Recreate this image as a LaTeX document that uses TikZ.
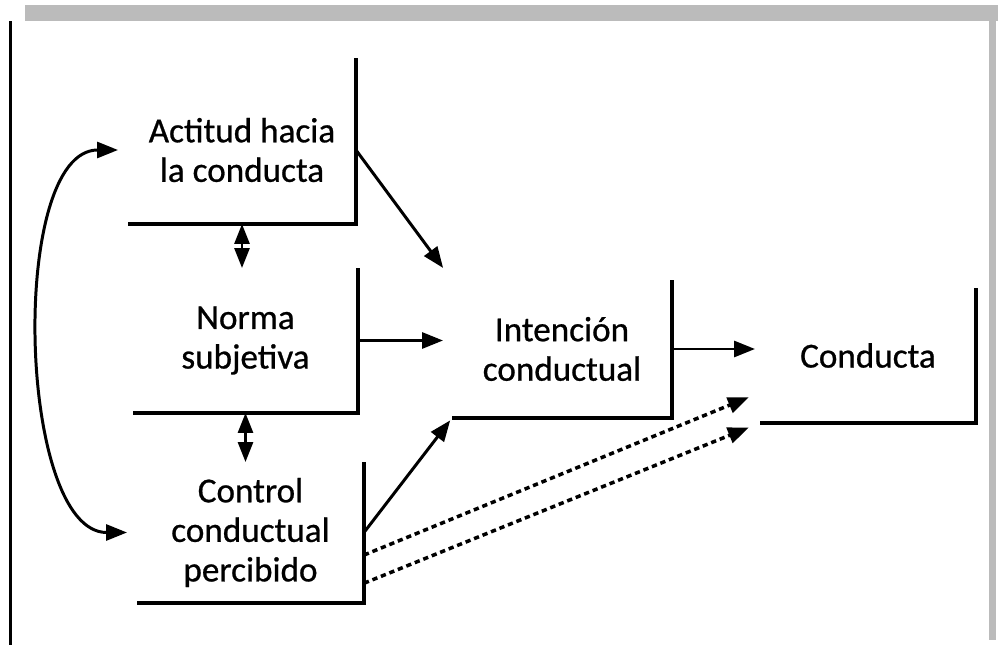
\documentclass[tikz,border=0pt]{standalone}
\usepackage{fontspec}
\setmainfont{Carlito}
\usetikzlibrary{arrows.meta,calc}
\definecolor{bandagris}{RGB}{187,187,187}

\begin{document}
\begin{tikzpicture}[x=0.02cm, y=-0.02cm,
    caja/.style={inner sep=0pt, outer sep=0pt, align=center, font=\fontsize{20}{22.5}\selectfont\addfontfeature{FakeBold=0.7}},
    borde/.style={line width=2pt, line join=miter},
    flecha/.style={line width=1.7pt, -{Triangle[length=0.42cm, width=0.32cm]}},
    curva/.style={line width=1.7pt, {Triangle[length=0.42cm, width=0.32cm]}-{Triangle[length=0.42cm, width=0.32cm]}},
    doble/.style={line width=1.7pt, {Triangle[length=0.4cm, width=0.3cm]}-{Triangle[length=0.4cm, width=0.3cm]}},
    puntos/.style={line width=2pt, dash pattern=on 3pt off 2.2pt, -{Triangle[length=0.42cm, width=0.32cm]}}]
  \useasboundingbox (0,0) rectangle (998,645);
  % marco de la foto
  \fill[bandagris] (25,5) rectangle (998,21);
  \fill[bandagris] (989,21) rectangle (996,640);
  \fill[black] (9,21) rectangle (12,645);

  \node[caja, minimum width=4.56cm, minimum height=2.96cm] (actitud) at (242,150) {Actitud hacia\\la conducta};
  \node[caja, minimum width=4.5cm, minimum height=2.9cm] (norma) at (245.5,340.5) {Norma\\subjetiva};
  \node[caja, minimum width=4.54cm, minimum height=2.82cm] (control) at (250.5,532.5) {Control\\conductual\\percibido};
  \node[caja, minimum width=4.4cm, minimum height=2.76cm] (intencion) at (562,349) {Intención\\conductual};
  \node[caja, minimum width=4.32cm, minimum height=2.7cm] (conducta) at (868,355.5) {Conducta};

  % bordes derecho e inferior
  \draw[borde] ([yshift=0.36cm]actitud.north east) -- (actitud.south east) -- (actitud.south west);
  \foreach \nodo in {norma,control,intencion,conducta}
    \draw[borde] (\nodo.north east) -- (\nodo.south east) -- (\nodo.south west);

  \draw[flecha, shorten >=0.3cm] (actitud.east) -- (intencion.north west);
  \draw[flecha, shorten >=0.18cm] (norma.east) -- (norma.east -| intencion.west);
  \draw[flecha, shorten >=0.06cm] (control.east) -- (intencion.south west);
  \draw[flecha, shorten >=0.1cm] (intencion.east) -- (intencion.east -| conducta.west);

  \draw[puntos, shorten >=0.24cm] ($(control.east)!0.32!(control.south east)$) -- ($(conducta.west)!0.55!(conducta.south west)$);
  \draw[puntos, shorten >=0.24cm] ($(control.east)!0.72!(control.south east)$) -- (conducta.south west);

  \draw[doble] (actitud.south) -- (actitud.south |- norma.north);
  \draw[doble] (norma.south) -- (norma.south |- control.north);
  \draw[curva, shorten <=0.2cm, shorten >=0.2cm] (actitud.west) to[out=180, in=180, looseness=0.8] (control.west);
\end{tikzpicture}
\end{document}
